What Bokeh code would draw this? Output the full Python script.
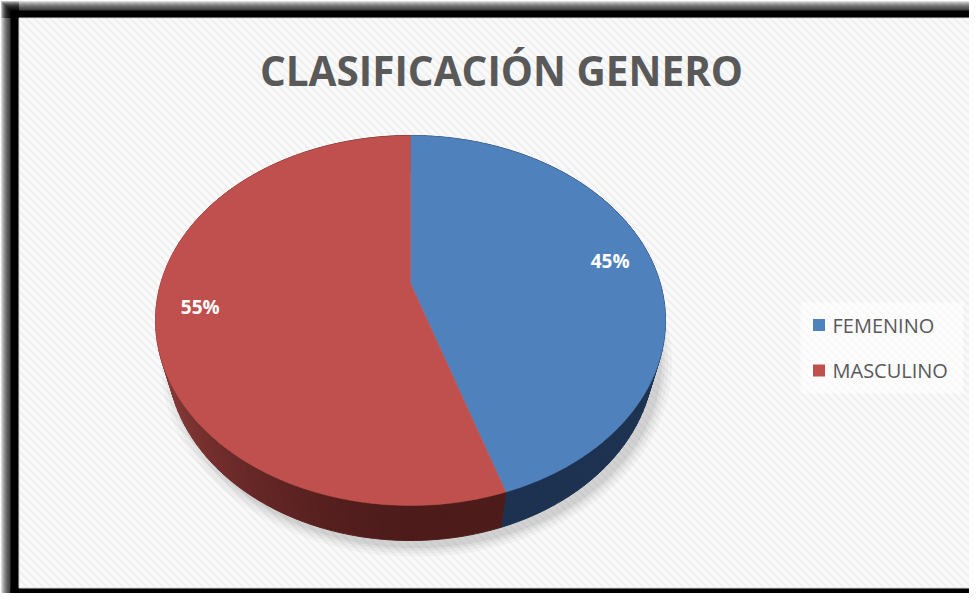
import numpy as np
from bokeh.plotting import figure
from bokeh.models import Range1d
from bokeh.core.properties import value
from bokeh.embed import file_html
from bokeh.resources import INLINE

# ---- data ----
categories = ["FEMENINO", "MASCULINO"]
percentages = [45, 55]
top_colors = ["#4F81BD", "#C0504D"]
title_text = "CLASIFICACIÓN GENERO"

# ---- figure in pixel coordinates ----
W, H = 969, 593
p = figure(width=W, height=H, x_range=Range1d(0, W), y_range=Range1d(H, 0),
           output_backend="svg", toolbar_location=None, x_axis_type=None, y_axis_type=None,
           min_border=0, outline_line_color=None, background_fill_color="white",
           border_fill_color="white")
p.grid.visible = False

# inner hatched area
IN_L, IN_T, IN_B = 18.5, 17.5, 587.5
p.quad(left=[IN_L], right=[1000], top=[IN_T], bottom=[IN_B], fill_color="#efefef", line_color=None)
offs = np.arange(-700, 1000, 8.0)
p.segment(x0=list(offs), y0=[0] * len(offs), x1=list(offs + 700), y1=[700] * len(offs),
          line_color="#fafafa", line_width=3.5)

# outer soft shadow (darker toward the frame)
for i in range(10):
    e = 0.5 + i
    p.quad(left=[e], right=[IN_L], top=[e], bottom=[H], fill_color="black", fill_alpha=0.13,
           line_color=None)
    p.quad(left=[e], right=[W], top=[e], bottom=[IN_T], fill_color="black", fill_alpha=0.13,
           line_color=None)
# solid black bands
p.quad(left=[10], right=[IN_L], top=[10], bottom=[H], fill_color="black", line_color=None)
p.quad(left=[10], right=[W], top=[10], bottom=[IN_T], fill_color="black", line_color=None)
p.quad(left=[10], right=[W], top=[IN_B], bottom=[H], fill_color="black", line_color=None)
p.quad(left=[IN_L], right=[W + 5], top=[IN_T], bottom=[IN_B], fill_color=None,
       line_color="#d6d6d6", line_width=1)

# ---- 3D perspective pie geometry ----
CX, CY = 410.0, 283.0
F, PHI, D, HGT = 878.0, np.radians(45.3), 3.515, 0.2265


def proj(theta, r, yw):
    X = r * np.sin(theta)
    Z = r * np.cos(theta)
    Yc = yw * np.cos(PHI) + Z * np.sin(PHI)
    Zc = D - yw * np.sin(PHI) + Z * np.cos(PHI)
    return CX + F * X / Zc, CY - F * Yc / Zc


fracs = np.array(percentages, dtype=float) / sum(percentages)
bounds = np.concatenate([[0.0], np.cumsum(fracs)]) * 2 * np.pi

# shadow under the pie
th_all = np.linspace(0, 2 * np.pi, 240)
bx, by = proj(th_all, 1.0, -HGT)
for k, a in zip([1.05, 1.035, 1.02, 1.008], [0.05, 0.07, 0.09, 0.12]):
    sx = CX + 6 + (bx - CX) * k
    sy = by.mean() + 6 + (by - by.mean()) * k
    p.patch(sx, sy, fill_color="#7f7f7f", fill_alpha=a, line_color=None)


def lerp_hex(c1, c2, t):
    a = np.array([int(c1[i:i + 2], 16) for i in (1, 3, 5)], dtype=float)
    b = np.array([int(c2[i:i + 2], 16) for i in (1, 3, 5)], dtype=float)
    c = a + (b - a) * t
    return "#%02x%02x%02x" % tuple(int(round(v)) for v in c)


side_dark = ["#1D3150", "#4E1B1B"]
side_light = ["#2B4770", "#8E3D3B"]

sxs, sys_, scs = [], [], []
for i in range(len(percentages)):
    a0, a1 = bounds[i], bounds[i + 1]
    n = max(2, int(np.degrees(a1 - a0) / 2))
    edges = np.linspace(a0, a1, n + 1)
    for j in range(n):
        t0, t1 = edges[j], edges[j + 1]
        tt = np.linspace(t0, t1, 3)
        ux, uy = proj(tt, 1.0, 0.0)
        lx, ly = proj(tt[::-1], 1.0, -HGT)
        sxs.append(list(ux) + list(lx))
        sys_.append(list(uy) + list(ly))
        tm = 0.5 * (t0 + t1)
        s = float(np.clip(-np.sin(tm), 0, 1)) ** 1.6 if i == 1 else float(np.clip(np.sin(tm) - 0.8, 0, 1))
        scs.append(lerp_hex(side_dark[i], side_light[i], s))
p.patches(sxs, sys_, fill_color=scs, line_color=scs, line_width=1)

# top faces
txs, tys = [], []
for i in range(len(percentages)):
    tt = np.linspace(bounds[i], bounds[i + 1], 200)
    ux, uy = proj(tt, 1.0, 0.0)
    txs.append([CX] + list(ux))
    tys.append([CY] + list(uy))
p.patches(txs, tys, fill_color=top_colors, line_color=top_colors, line_width=0.5)

# data labels
mids = 0.5 * (bounds[:-1] + bounds[1:])
lx, ly = proj(mids, 0.83, 0.0)
p.text(x=list(lx), y=list(ly), text=[f"{v}%" for v in percentages], text_color="white",
       text_font=value("Open Sans"), text_font_style="bold", text_font_size="19px",
       text_align="center", text_baseline="middle")

# title
p.text(x=[501], y=[70], text=[title_text], text_color="#595959", text_font=value("Open Sans"),
       text_font_style="bold", text_font_size="40.5px", text_align="center",
       text_baseline="middle")

# legend
p.quad(left=[800], right=[963], top=[302], bottom=[393], fill_color="white", fill_alpha=0.55,
       line_color=None)
leg_y = [324.5, 370]
p.rect(x=[818.5] * 2, y=leg_y, width=12, height=12, fill_color=top_colors, line_color=None)
p.text(x=[832] * 2, y=leg_y, text=categories, text_color="#595959", text_font=value("Open Sans"),
       text_font_size="20px", text_align="left", text_baseline="middle")

open("out.html", "w").write(file_html(p, INLINE))
